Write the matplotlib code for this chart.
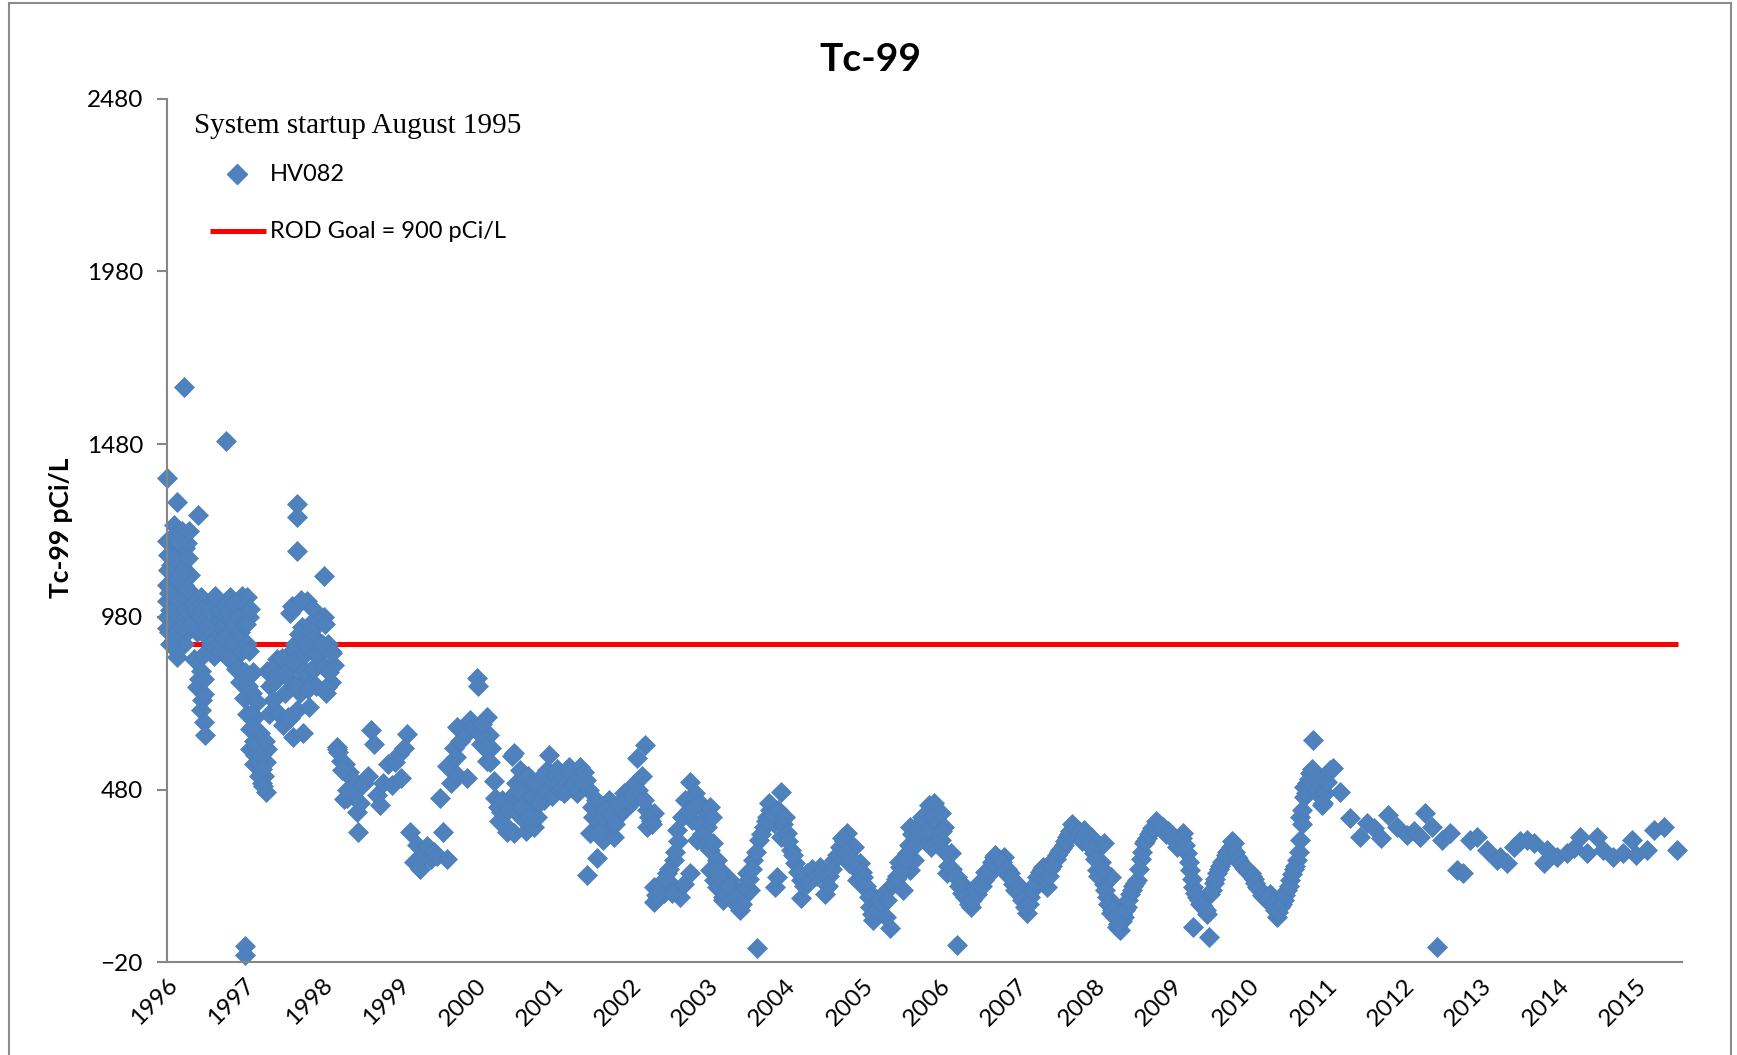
import matplotlib.pyplot as plt
from matplotlib.lines import Line2D
from matplotlib.patches import Rectangle

plt.rcParams['font.family'] = ['Lato', 'DejaVu Sans']

# HV082 Tc-99 results, sample date as decimal year
sample_dates = [
    # 1996
    1996.00, 1996.00, 1996.01, 1996.00, 1996.01, 1996.02, 1996.03, 1996.04, 1996.05, 1996.06,
    1996.07, 1996.08, 1996.09, 1996.09, 1996.10, 1996.11, 1996.12, 1996.13, 1996.13, 1996.13,
    1996.15, 1996.16, 1996.17, 1996.18, 1996.18, 1996.20, 1996.21, 1996.22, 1996.22, 1996.23,
    1996.24, 1996.26, 1996.26, 1996.28, 1996.29, 1996.30, 1996.31, 1996.33, 1996.35, 1996.35,
    1996.36, 1996.38, 1996.39, 1996.39, 1996.40, 1996.41, 1996.42, 1996.44, 1996.44, 1996.44,
    1996.46, 1996.48, 1996.48, 1996.50, 1996.50, 1996.52, 1996.54, 1996.57, 1996.59, 1996.61,
    1996.63, 1996.65, 1996.67, 1996.70, 1996.72, 1996.75, 1996.77, 1996.78, 1996.80, 1996.82,
    1996.82, 1996.85, 1996.87, 1996.89, 1996.91, 1996.93, 1996.95, 1996.95, 1996.97,
    1996.01, 1996.02, 1996.03, 1996.04, 1996.06, 1996.07, 1996.08, 1996.10, 1996.11, 1996.14,
    1996.15, 1996.16, 1996.19, 1996.20, 1996.23, 1996.25, 1996.27, 1996.28, 1996.32, 1996.34,
    1996.37, 1996.43, 1996.46, 1996.47, 1996.49, 1996.52, 1996.55, 1996.58, 1996.62, 1996.66,
    1996.69, 1996.71, 1996.74, 1996.76, 1996.79, 1996.81, 1996.84, 1996.86, 1996.88, 1996.90,
    1996.92, 1996.94, 1996.98, 1996.99,
    # 1997
    1997.00, 1997.02, 1997.02, 1997.04, 1997.04, 1997.04, 1997.06, 1997.08, 1997.08, 1997.08,
    1997.10, 1997.13, 1997.13, 1997.15, 1997.17, 1997.17, 1997.19, 1997.21, 1997.21, 1997.21,
    1997.23, 1997.26, 1997.28, 1997.28, 1997.30, 1997.30, 1997.34, 1997.39, 1997.43, 1997.47,
    1997.51, 1997.53, 1997.56, 1997.58, 1997.60, 1997.60, 1997.64, 1997.66, 1997.69, 1997.69,
    1997.69, 1997.69, 1997.69, 1997.69, 1997.72, 1997.75, 1997.77, 1997.77, 1997.80, 1997.82,
    1997.82, 1997.84, 1997.86, 1997.88, 1997.90, 1997.93, 1997.95, 1997.98,
    1997.01, 1997.03, 1997.05, 1997.07, 1997.09, 1997.11, 1997.12, 1997.14, 1997.16, 1997.18,
    1997.20, 1997.22, 1997.24, 1997.25, 1997.27, 1997.32, 1997.36, 1997.38, 1997.41, 1997.45,
    1997.49, 1997.55, 1997.57, 1997.62, 1997.63, 1997.67, 1997.71, 1997.74, 1997.76, 1997.79,
    1997.83, 1997.85, 1997.87, 1997.91, 1997.94, 1997.97,
    # 1998
    1998.03, 1998.03, 1998.03, 1998.06, 1998.09, 1998.12, 1998.12, 1998.16, 1998.20, 1998.20,
    1998.25, 1998.29, 1998.31, 1998.33, 1998.36, 1998.38, 1998.42, 1998.46, 1998.47, 1998.50,
    1998.55, 1998.60, 1998.64, 1998.68, 1998.72, 1998.76, 1998.80, 1998.87, 1998.92, 1998.96,
    1998.01, 1998.05, 1998.08, 1998.10, 1998.14, 1998.22, 1998.27, 1998.33,
    # 1999
    1999.00, 1999.03, 1999.07, 1999.11, 1999.15, 1999.20, 1999.24, 1999.28, 1999.33, 1999.37,
    1999.42, 1999.46, 1999.50, 1999.54, 1999.58, 1999.63, 1999.63, 1999.68, 1999.72, 1999.74,
    1999.76, 1999.76, 1999.80, 1999.84, 1999.87, 1999.89, 1999.93, 1999.96,
    # 2000
    2000.01, 2000.03, 2000.06, 2000.10, 2000.14, 2000.14, 2000.17, 2000.20, 2000.23, 2000.25,
    2000.28, 2000.32, 2000.36, 2000.40, 2000.44, 2000.47, 2000.48, 2000.49, 2000.49, 2000.52,
    2000.53, 2000.57, 2000.60, 2000.62, 2000.62, 2000.65, 2000.71, 2000.71, 2000.75, 2000.79,
    2000.83, 2000.88, 2000.92, 2000.94, 2000.97,
    2000.05, 2000.08, 2000.12, 2000.18, 2000.30, 2000.34, 2000.42, 2000.55, 2000.58, 2000.67,
    2000.69, 2000.73, 2000.77, 2000.81, 2000.86, 2000.90, 2000.99,
    # 2001
    2001.01, 2001.05, 2001.09, 2001.14, 2001.20, 2001.24, 2001.28, 2001.31, 2001.35, 2001.42,
    2001.44, 2001.46, 2001.48, 2001.52, 2001.57, 2001.57, 2001.61, 2001.65, 2001.69, 2001.72,
    2001.78, 2001.83, 2001.87, 2001.91, 2001.95,
    2001.03, 2001.07, 2001.12, 2001.16, 2001.18, 2001.22, 2001.26, 2001.33, 2001.38, 2001.40,
    2001.50, 2001.55, 2001.59, 2001.63, 2001.67, 2001.75, 2001.80, 2001.85, 2001.89, 2001.93,
    2001.98,
    # 2002
    2002.00, 2002.04, 2002.08, 2002.13, 2002.19, 2002.21, 2002.21, 2002.26, 2002.30, 2002.30,
    2002.30, 2002.36, 2002.40, 2002.43, 2002.47, 2002.52, 2002.56, 2002.56, 2002.60, 2002.64,
    2002.69, 2002.77, 2002.77, 2002.80, 2002.84, 2002.86, 2002.90, 2002.95, 2002.99,
    2002.02, 2002.06, 2002.10, 2002.15, 2002.17, 2002.24, 2002.28, 2002.33, 2002.38, 2002.45,
    2002.50, 2002.54, 2002.58, 2002.62, 2002.66, 2002.71, 2002.75, 2002.82, 2002.88, 2002.92,
    2002.97,
    # 2003
    2003.03, 2003.03, 2003.03, 2003.05, 2003.07, 2003.08, 2003.12, 2003.12, 2003.16, 2003.16,
    2003.20, 2003.20, 2003.25, 2003.29, 2003.33, 2003.38, 2003.42, 2003.46, 2003.51, 2003.55,
    2003.59, 2003.64, 2003.66, 2003.72, 2003.77, 2003.81, 2003.85, 2003.87, 2003.89, 2003.94,
    2003.94,
    2003.10, 2003.14, 2003.18, 2003.22, 2003.27, 2003.31, 2003.35, 2003.40, 2003.44, 2003.48,
    2003.53, 2003.57, 2003.62, 2003.69, 2003.75, 2003.79, 2003.83, 2003.91, 2003.97,
    # 2004
    2004.00, 2004.02, 2004.07, 2004.13, 2004.20, 2004.20, 2004.24, 2004.28, 2004.33, 2004.38,
    2004.45, 2004.52, 2004.57, 2004.63, 2004.71, 2004.76, 2004.80, 2004.82, 2004.89, 2004.93,
    2004.97,
    2004.04, 2004.10, 2004.16, 2004.30, 2004.35, 2004.41, 2004.48, 2004.55, 2004.60, 2004.67,
    2004.74, 2004.78, 2004.86, 2004.91, 2004.99,
    # 2005
    2005.01, 2005.06, 2005.10, 2005.14, 2005.19, 2005.23, 2005.27, 2005.36, 2005.40, 2005.45,
    2005.49, 2005.53, 2005.58, 2005.62, 2005.62, 2005.66, 2005.71, 2005.75, 2005.79, 2005.83,
    2005.86, 2005.88, 2005.92, 2005.97,
    2005.04, 2005.08, 2005.12, 2005.17, 2005.21, 2005.25, 2005.30, 2005.32, 2005.43, 2005.47,
    2005.51, 2005.56, 2005.60, 2005.64, 2005.68, 2005.73, 2005.77, 2005.81, 2005.90, 2005.95,
    2005.99,
    # 2006
    2006.01, 2006.01, 2006.05, 2006.09, 2006.14, 2006.22, 2006.22, 2006.27, 2006.31, 2006.36,
    2006.40, 2006.44, 2006.48, 2006.53, 2006.57, 2006.61, 2006.65, 2006.70, 2006.74, 2006.78,
    2006.83, 2006.87, 2006.91, 2006.95, 2006.99,
    2006.03, 2006.07, 2006.11, 2006.16, 2006.19, 2006.25, 2006.29, 2006.33, 2006.38, 2006.42,
    2006.46, 2006.51, 2006.55, 2006.59, 2006.63, 2006.68, 2006.72, 2006.76, 2006.80, 2006.85,
    2006.89, 2006.93, 2006.97,
    # 2007
    2007.04, 2007.08, 2007.13, 2007.17, 2007.22, 2007.26, 2007.30, 2007.34, 2007.39, 2007.43,
    2007.47, 2007.52, 2007.56, 2007.60, 2007.65, 2007.69, 2007.73, 2007.78, 2007.82, 2007.86,
    2007.90, 2007.95, 2007.99,
    2007.02, 2007.06, 2007.10, 2007.15, 2007.19, 2007.24, 2007.28, 2007.32, 2007.36, 2007.41,
    2007.45, 2007.50, 2007.54, 2007.58, 2007.62, 2007.67, 2007.71, 2007.75, 2007.80, 2007.84,
    2007.88, 2007.93, 2007.97,
    # 2008
    2008.03, 2008.08, 2008.12, 2008.12, 2008.16, 2008.21, 2008.21, 2008.25, 2008.29, 2008.33,
    2008.36, 2008.38, 2008.42, 2008.46, 2008.50, 2008.55, 2008.60, 2008.64, 2008.68, 2008.73,
    2008.77, 2008.83, 2008.89, 2008.95,
    2008.01, 2008.05, 2008.10, 2008.14, 2008.18, 2008.23, 2008.27, 2008.31, 2008.35, 2008.40,
    2008.44, 2008.48, 2008.52, 2008.57, 2008.62, 2008.66, 2008.70, 2008.75, 2008.80, 2008.86,
    2008.92, 2008.98,
    # 2009
    2009.02, 2009.07, 2009.11, 2009.15, 2009.20, 2009.24, 2009.28, 2009.28, 2009.33, 2009.37,
    2009.41, 2009.46, 2009.48, 2009.50, 2009.54, 2009.58, 2009.63, 2009.67, 2009.72, 2009.76,
    2009.80, 2009.84, 2009.88, 2009.93, 2009.97,
    2009.04, 2009.09, 2009.13, 2009.17, 2009.22, 2009.26, 2009.30, 2009.35, 2009.39, 2009.44,
    2009.52, 2009.56, 2009.61, 2009.65, 2009.70, 2009.74, 2009.78, 2009.82, 2009.86, 2009.90,
    2009.95, 2009.99,
    # 2010
    2010.02, 2010.06, 2010.10, 2010.15, 2010.19, 2010.23, 2010.27, 2010.32, 2010.36, 2010.40,
    2010.45, 2010.49, 2010.53, 2010.58, 2010.62, 2010.66, 2010.66, 2010.69, 2010.71, 2010.71,
    2010.75, 2010.79, 2010.83, 2010.90, 2010.94, 2010.96,
    2010.04, 2010.08, 2010.12, 2010.17, 2010.21, 2010.25, 2010.30, 2010.34, 2010.38, 2010.43,
    2010.47, 2010.51, 2010.56, 2010.60, 2010.64, 2010.68, 2010.73, 2010.77, 2010.81, 2010.86,
    2010.92, 2010.98,
    # 2011 - 2015
    2011.01, 2011.05, 2011.09, 2011.18, 2011.31, 2011.44, 2011.52, 2011.61, 2011.70, 2011.80,
    2011.91,
    2012.04, 2012.13, 2012.21, 2012.28, 2012.36, 2012.43, 2012.49, 2012.60, 2012.69, 2012.77,
    2012.86, 2012.95,
    2013.08, 2013.21, 2013.25, 2013.33, 2013.42, 2013.50, 2013.59, 2013.68, 2013.81, 2013.85,
    2013.98,
    2014.11, 2014.20, 2014.28, 2014.37, 2014.50, 2014.58, 2014.71, 2014.84, 2014.95,
    2015.01, 2015.14, 2015.23, 2015.36, 2015.53,
]

tc99_values = [
    # 1996
    1381, 1071, 1026, 981, 947, 1116, 936, 1000, 1195, 1060,
    960, 1090, 1246, 914, 1030, 1161, 985, 1313, 863, 1049,
    1120, 950, 1010, 1139, 981, 1229, 1060, 1645, 1071, 900,
    1180, 1195, 1004, 940, 1229, 1100, 1049, 1010, 981, 857,
    1040, 960, 936, 778, 1020, 1274, 800, 1037, 823, 711,
    740, 756, 677, 638, 990, 1015, 920, 958, 1000, 868,
    940, 1004, 960, 914, 990, 960, 1488, 981, 900, 1037,
    936, 970, 846, 1010, 1004, 880, 936, 790, 1040,
    1200, 1160, 1050, 900, 1130, 1210, 1000, 1150, 930, 1090,
    1200, 1030, 1100, 950, 1120, 1000, 1060, 1150, 960, 1020,
    1000, 980, 1000, 870, 800, 950, 1000, 900, 1040, 900,
    1000, 880, 920, 1010, 860, 990, 900, 1020, 960, 830,
    980, 1030, 880, 960,
    # 1997
    745, 28, 0, 1037, 902, 700, 980, 1004, 655, 598,
    760, 621, 553, 690, 587, 733, 640, 553, 598, 643,
    500, 519, 474, 560, 598, 823, 780, 790, 857, 820,
    666, 760, 868, 800, 992, 688, 632, 900, 1308, 1268,
    1172, 1015, 846, 711, 760, 950, 868, 643, 800, 1026,
    936, 720, 823, 880, 1004, 780, 914, 850,
    820, 960, 780, 880, 700, 660, 820, 580, 610, 560,
    520, 580, 540, 490, 620, 700, 830, 740, 810, 700,
    860, 820, 690, 1010, 850, 780, 930, 1030, 820, 900,
    770, 960, 940, 830, 870, 970,
    # 1998
    1099, 981, 835, 760, 900, 880, 790, 840, 602, 598,
    564, 452, 553, 455, 530, 514, 470, 416, 357, 440,
    499, 520, 651, 612, 465, 435, 500, 553, 494, 560,
    900, 960, 778, 820, 874, 590, 536, 480,
    # 1999
    582, 514, 600, 640, 357, 269, 320, 250, 290, 318,
    280, 300, 289, 456, 357, 279, 548, 500, 600, 575,
    661, 523, 620, 650, 640, 514, 680, 660,
    # 2000
    802, 780, 612, 650, 690, 562, 638, 600, 505, 456,
    430, 416, 380, 357, 440, 577, 465, 585, 353, 500,
    411, 536, 460, 514, 392, 360, 485, 430, 372, 401,
    498, 450, 536, 580, 520,
    640, 670, 600, 560, 390, 450, 420, 480, 430, 520,
    400, 460, 500, 440, 520, 470, 460,
    # 2001
    498, 540, 479, 469, 546, 517, 500, 469, 546, 508,
    233, 479, 353, 400, 392, 281, 430, 334, 380, 450,
    344, 400, 421, 470, 430,
    520, 500, 520, 500, 480, 530, 490, 520, 500, 530,
    430, 450, 360, 400, 420, 410, 380, 440, 420, 450,
    480,
    # 2002
    440, 479, 570, 459, 609, 421, 372, 390, 411, 199,
    155, 170, 210, 180, 237, 200, 276, 199, 363, 170,
    208, 503, 237, 392, 469, 334, 440, 421, 372,
    460, 500, 480, 520, 450, 400, 380, 175, 190, 220,
    250, 180, 300, 330, 400, 450, 420, 430, 380, 350,
    320,
    # 2003
    305, 247, 430, 401, 324, 218, 276, 199, 199, 247,
    170, 160, 210, 218, 189, 150, 131, 170, 237, 189,
    276, 20, 334, 372, 400, 421, 382, 199, 228, 474,
    343,
    250, 230, 190, 180, 200, 160, 170, 140, 150, 200,
    220, 250, 300, 350, 390, 440, 410, 420, 380,
    # 2004
    401, 353, 305, 266, 218, 165, 200, 237, 220, 240,
    257, 179, 230, 276, 314, 330, 353, 266, 314, 218,
    266,
    330, 290, 240, 210, 250, 230, 240, 200, 250, 290,
    340, 300, 280, 250, 240,
    # 2005
    228, 189, 141, 102, 150, 122, 179, 78, 208, 230,
    257, 189, 295, 372, 247, 276, 343, 382, 372, 343,
    435, 314, 440, 360,
    200, 170, 120, 130, 160, 150, 110, 160, 220, 270,
    240, 280, 320, 350, 320, 360, 400, 360, 400, 390,
    380,
    # 2006
    411, 334, 372, 237, 295, 228, 30, 210, 199, 160,
    141, 170, 179, 200, 218, 230, 237, 286, 270, 257,
    286, 250, 237, 208, 210,
    360, 300, 260, 250, 230, 200, 180, 170, 150, 160,
    190, 210, 200, 240, 250, 270, 290, 280, 270, 250,
    230, 220, 190,
    # 2007
    199, 170, 122, 170, 200, 228, 240, 257, 199, 250,
    276, 290, 305, 320, 343, 360, 372, 350, 340, 363,
    330, 343, 295,
    180, 160, 140, 150, 190, 210, 230, 250, 220, 230,
    260, 280, 300, 310, 330, 350, 380, 370, 360, 330,
    350, 320, 310,
    # 2008
    247, 270, 324, 208, 170, 122, 228, 150, 83, 73,
    100, 112, 141, 179, 200, 218, 280, 324, 340, 360,
    372, 380, 372, 360,
    280, 230, 250, 190, 150, 130, 110, 90, 120, 130,
    160, 190, 210, 250, 300, 330, 350, 370, 390, 375,
    350, 355,
    # 2009
    343, 314, 330, 353, 295, 247, 199, 83, 170, 150,
    141, 120, 54, 179, 210, 237, 260, 276, 300, 314,
    324, 286, 270, 257, 245,
    330, 320, 340, 320, 270, 220, 180, 160, 145, 130,
    190, 220, 250, 270, 290, 305, 330, 300, 280, 265,
    250, 240,
    # 2010
    237, 220, 199, 185, 170, 160, 179, 140, 112, 140,
    160, 190, 218, 250, 276, 334, 401, 420, 459, 488,
    500, 527, 623, 510, 435, 440,
    230, 210, 195, 175, 165, 170, 150, 130, 125, 150,
    175, 200, 235, 260, 300, 380, 470, 510, 540, 480,
    460, 470,
    # 2011 - 2015
    503, 536, 541, 474, 397, 344, 382, 370, 339, 406,
    372,
    348, 360, 344, 411, 372, 25, 334, 353, 247, 237,
    334, 344,
    305, 276, 286, 266, 314, 330, 334, 324, 266, 305,
    286,
    295, 310, 343, 295, 343, 305, 286, 295, 334,
    290, 305, 363, 372, 305,
]

goal_dates = [1996.21, 2015.55]
goal_values = [900, 900]

year_ticks = list(range(1996, 2016))
value_ticks = [-20, 480, 980, 1480, 1980, 2480]

blue = '#4f81bd'
red = '#ff0000'
grey = '#868686'

fig = plt.figure(figsize=(17.37, 10.55), dpi=100)

# chart area border
fig.patches.append(Rectangle((9 / 1737, -0.01), 1722 / 1737, 1.01 - 3 / 1055,
                             transform=fig.transFigure, fill=False,
                             edgecolor='#8c8c8c', linewidth=1.5))

ax = fig.add_axes([0.0959, 0.0879, 0.8725, 0.8185])
ax.plot(goal_dates, goal_values, color=red, linewidth=3.6, solid_capstyle='butt')
ax.plot(sample_dates, tc99_values, linestyle='none', marker='D', markersize=10.5,
        color=blue, markeredgecolor='#4a7ebb', markeredgewidth=0.5, clip_on=False)

ax.set_xlim(1996, 2015.6)
ax.set_ylim(-20, 2480)
ax.set_xticks(year_ticks)
ax.set_xticklabels([str(y) for y in year_ticks], rotation=45, ha='right',
                   va='top', rotation_mode='anchor')
ax.set_yticks(value_ticks)
ax.tick_params(axis='x', length=0, pad=9, labelsize=17.5)
ax.tick_params(axis='y', length=7, width=1.5, color=grey, pad=10, labelsize=17.5)
for side in ['top', 'right']:
    ax.spines[side].set_visible(False)
for side in ['left', 'bottom']:
    ax.spines[side].set_color(grey)
    ax.spines[side].set_linewidth(1.5)

fig.text(0.501, 0.944, 'Tc-99', weight='bold', size=28, ha='center', va='center')
fig.text(0.035, 0.50, 'Tc-99 pCi/L', weight='bold', size=19, rotation=90,
         ha='center', va='center')

# legend drawn by hand to match the layout
fig.text(0.1117, 0.8805, 'System startup August 1995', family='Liberation Serif',
         size=21, va='center')
fig.add_artist(Line2D([0.1364], [0.835], transform=fig.transFigure, marker='D',
                      markersize=10.5, color=blue, linestyle='none'))
fig.text(0.1554, 0.835, 'HV082', size=17, va='center')
fig.add_artist(Line2D([0.1209, 0.1531], [0.781, 0.781], transform=fig.transFigure,
                      color=red, linewidth=3.6, solid_capstyle='butt'))
fig.text(0.1554, 0.781, 'ROD Goal = 900 pCi/L', size=17, va='center')

fig.savefig('out.png', dpi=100)
